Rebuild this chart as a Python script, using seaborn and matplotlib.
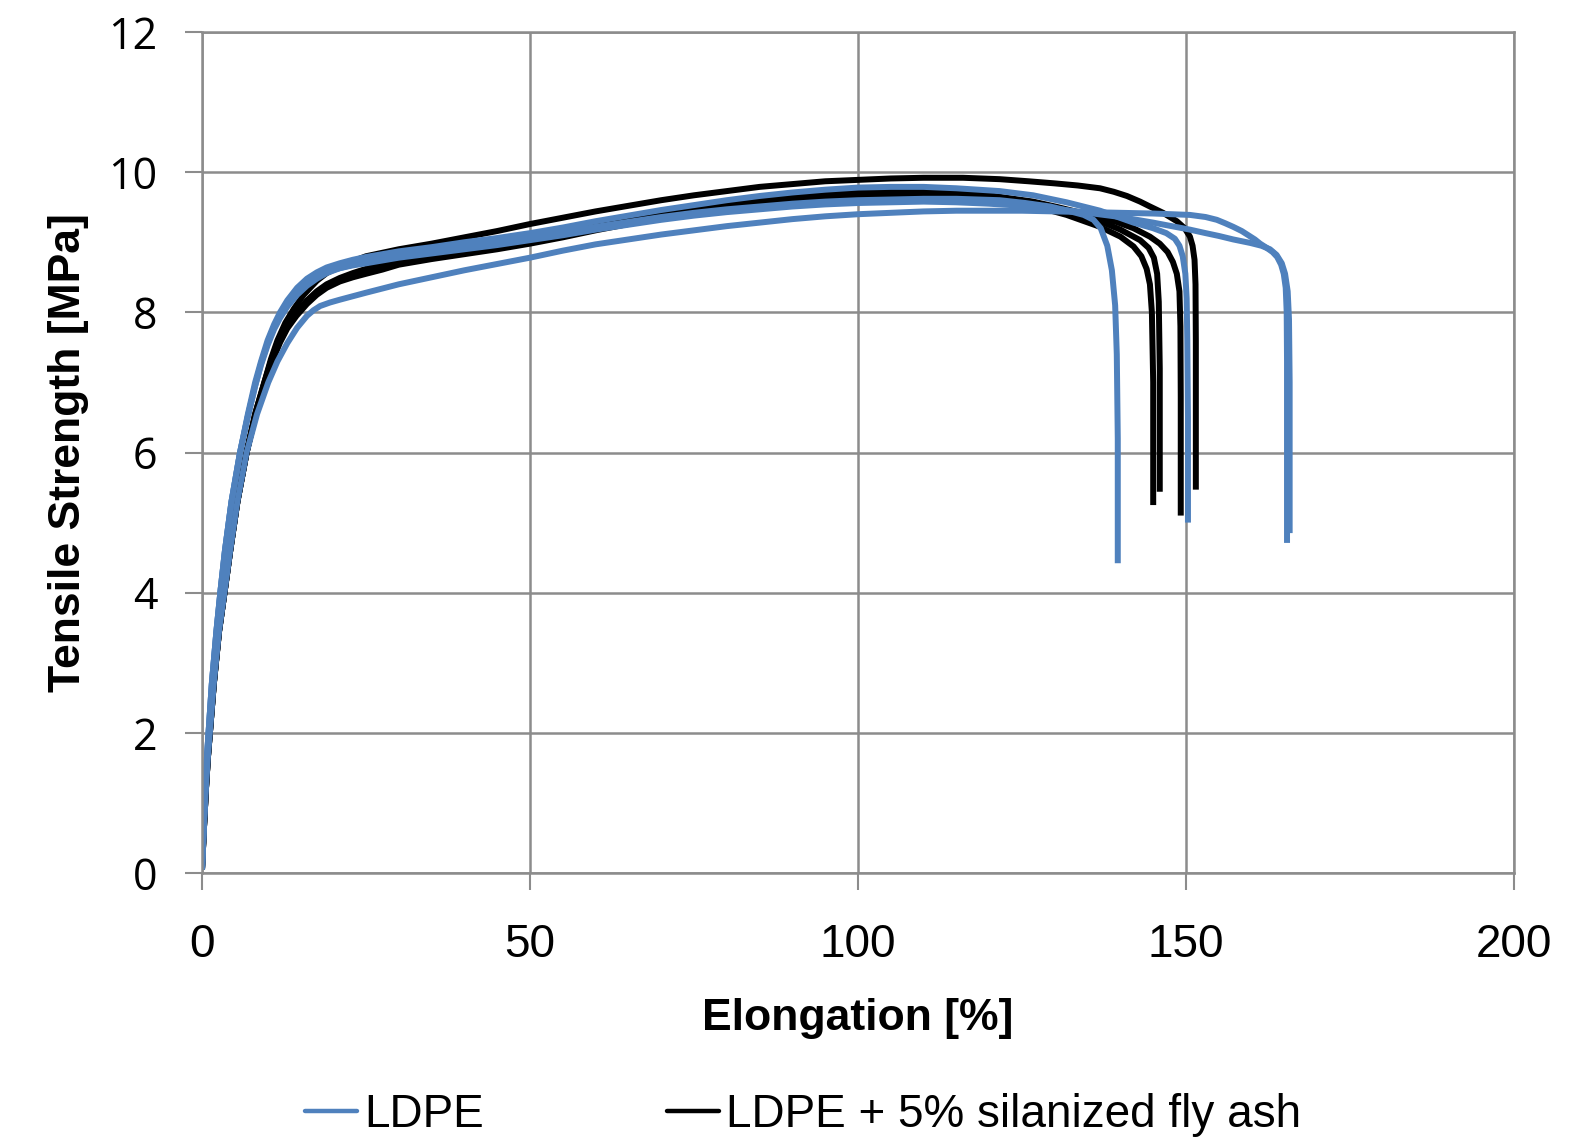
import numpy as np
import pandas as pd
import matplotlib
matplotlib.use("Agg")
import matplotlib.pyplot as plt
from matplotlib.lines import Line2D
import seaborn as sns

# ---------------- data ----------------
materials = ["LDPE", "LDPE + 5% silanized fly ash"]

# LDPE specimens (strain %, stress MPa)
ldpe1_x = [0, 0.25, 0.5, 0.75, 1.0, 1.5, 2.2, 2.85, 3.5, 4.5, 5.8, 7.0, 8.1, 9.0, 10.0, 11.0, 11.9, 13.0, 14.5, 16.0, 17.5, 19.0, 21.0, 23.0, 25.0, 27.5, 30, 35, 40, 45, 50, 55, 60, 65, 70, 75, 80, 85, 90, 95, 100, 105, 110, 115, 121.6, 126.7, 131.8, 136.9, 142, 145, 147, 148.3, 149.0, 149.5, 149.9, 150.1, 150.2, 150.3, 150.3]
ldpe1_y = [0.05, 0.65, 1.2, 1.65, 2.0, 2.7, 3.45, 4.05, 4.6, 5.3, 6.0, 6.55, 7.0, 7.3, 7.6, 7.83, 8.0, 8.17, 8.35, 8.48, 8.57, 8.64, 8.7, 8.75, 8.79, 8.83, 8.87, 8.93, 9.0, 9.06, 9.13, 9.21, 9.3, 9.38, 9.46, 9.53, 9.6, 9.66, 9.71, 9.75, 9.78, 9.79, 9.79, 9.77, 9.73, 9.67, 9.57, 9.45, 9.28, 9.2, 9.13, 9.05, 8.95, 8.8, 8.55, 8.2, 7.6, 6.5, 5.0]

ldpe2_x = [0, 0.25, 0.5, 0.75, 1.0, 1.5, 2.2, 2.85, 3.5, 4.5, 5.8, 7.0, 8.1, 9.0, 10.0, 11.0, 11.9, 13.0, 14.5, 16.0, 17.5, 19.0, 21.0, 23.0, 25.0, 27.5, 30, 35, 40, 45, 50, 55, 60, 65, 70, 75, 80, 85, 90, 95, 100, 105, 110, 115, 121.6, 125.5, 129.3, 132, 134.4, 135.9, 137.0, 138.0, 138.7, 139.2, 139.45, 139.6, 139.6]
ldpe2_y = [0.05, 0.65, 1.2, 1.65, 2.0, 2.7, 3.45, 4.05, 4.6, 5.3, 6.0, 6.52, 6.95, 7.25, 7.53, 7.76, 7.92, 8.08, 8.25, 8.38, 8.48, 8.56, 8.63, 8.68, 8.72, 8.76, 8.8, 8.86, 8.93, 8.99, 9.06, 9.14, 9.22, 9.29, 9.36, 9.42, 9.47, 9.51, 9.55, 9.58, 9.60, 9.61, 9.62, 9.62, 9.60, 9.56, 9.51, 9.45, 9.39, 9.32, 9.2, 8.95, 8.6, 8.1, 7.4, 6.2, 4.42]

ldpe3_x = [0, 0.25, 0.5, 0.75, 1.0, 1.5, 2.2, 2.85, 3.5, 4.5, 5.8, 7.0, 8.1, 9.0, 10.0, 11.0, 11.9, 13.0, 14.5, 16.0, 17.5, 19.0, 21.0, 23.0, 25.0, 27.5, 30, 35, 40, 45, 50, 55, 60, 65, 70, 75, 80, 85, 90, 95, 100, 105, 110, 115, 120, 125, 130, 135, 140, 145, 150.6, 153, 155, 157.2, 159.8, 161.5, 162.8, 163.8, 164.6, 165.1, 165.5, 165.7, 165.8, 165.8]
ldpe3_y = [0.05, 0.65, 1.2, 1.65, 2.0, 2.7, 3.45, 4.05, 4.6, 5.3, 6.0, 6.52, 6.95, 7.27, 7.56, 7.8, 7.96, 8.13, 8.3, 8.43, 8.52, 8.58, 8.63, 8.67, 8.7, 8.74, 8.78, 8.84, 8.9, 8.96, 9.03, 9.1, 9.18, 9.25, 9.32, 9.38, 9.43, 9.47, 9.51, 9.54, 9.56, 9.57, 9.58, 9.57, 9.55, 9.52, 9.48, 9.42, 9.36, 9.28, 9.18, 9.13, 9.09, 9.04, 8.99, 8.95, 8.9, 8.82, 8.7, 8.55, 8.3, 7.9, 7.0, 4.85]

ldpe4_x = [0, 0.3, 0.6, 0.9, 1.2, 1.8, 2.6, 3.5, 4.3, 5.4, 6.8, 8.4, 10.1, 11.5, 13.0, 14.5, 16.0, 17.0, 18.0, 19.5, 21.0, 22.6, 25.0, 27.5, 30, 35, 40, 45, 50, 55, 60, 65, 70, 75, 80, 85, 90, 95, 100, 105, 110, 115, 120, 125, 130, 135, 140, 145, 150.6, 153, 154.7, 156, 157.2, 158.5, 159.5, 160.5, 161.3, 162.3, 163.2, 163.9, 164.5, 164.9, 165.2, 165.35, 165.4, 165.4]
ldpe4_y = [0.05, 0.65, 1.2, 1.65, 2.0, 2.7, 3.45, 4.05, 4.6, 5.3, 6.0, 6.55, 7.0, 7.3, 7.56, 7.78, 7.95, 8.03, 8.09, 8.14, 8.18, 8.22, 8.28, 8.34, 8.4, 8.5, 8.6, 8.69, 8.78, 8.88, 8.97, 9.04, 9.11, 9.17, 9.23, 9.28, 9.33, 9.37, 9.40, 9.42, 9.44, 9.45, 9.45, 9.45, 9.44, 9.43, 9.42, 9.41, 9.39, 9.36, 9.32, 9.27, 9.22, 9.16, 9.1, 9.04, 8.98, 8.92, 8.86, 8.79, 8.68, 8.55, 8.35, 8.0, 7.3, 4.71]

# LDPE + 5% silanized fly ash specimens
fa1_x = [0, 0.3, 0.6, 0.9, 1.2, 1.8, 2.6, 3.5, 4.3, 5.4, 6.8, 8.1, 9.5, 10.5, 11.5, 12.7, 14.0, 15.5, 17.5, 19.0, 21, 23, 25, 27.5, 30, 35, 40, 45, 50, 55, 60, 65, 70, 75, 80, 85, 90, 95, 100, 105, 110, 116, 121.6, 126, 130, 133.5, 136.9, 139, 141, 143, 144.5, 146.5, 148.6, 149.8, 150.6, 151.0, 151.3, 151.45, 151.5, 151.5]
fa1_y = [0.05, 0.65, 1.2, 1.65, 2.0, 2.7, 3.45, 4.05, 4.6, 5.3, 6.0, 6.55, 7.0, 7.33, 7.6, 7.85, 8.05, 8.25, 8.45, 8.56, 8.65, 8.73, 8.8, 8.85, 8.9, 8.98, 9.07, 9.16, 9.26, 9.35, 9.44, 9.52, 9.6, 9.67, 9.73, 9.79, 9.83, 9.87, 9.89, 9.91, 9.92, 9.92, 9.90, 9.87, 9.84, 9.81, 9.77, 9.72, 9.66, 9.58, 9.51, 9.42, 9.3, 9.2, 9.08, 8.95, 8.75, 8.4, 7.6, 5.47]

fa2_x = [0, 0.3, 0.6, 0.9, 1.2, 1.8, 2.6, 3.5, 4.3, 5.4, 6.8, 8.1, 9.5, 10.5, 11.9, 13.0, 14.4, 16.0, 17.5, 19.0, 21, 23, 25, 27.5, 30, 35, 40, 45, 50, 55, 60, 65, 70, 75, 80, 85, 90, 95, 100, 105, 110, 115, 120, 126.7, 130.5, 134.4, 137, 139.4, 142, 144.5, 146.0, 147.2, 148.0, 148.6, 149.0, 149.15, 149.2, 149.2]
fa2_y = [0.05, 0.65, 1.2, 1.65, 2.0, 2.7, 3.45, 4.05, 4.6, 5.3, 6.0, 6.55, 7.0, 7.3, 7.62, 7.82, 8.0, 8.17, 8.3, 8.4, 8.49, 8.56, 8.62, 8.68, 8.74, 8.81, 8.88, 8.95, 9.03, 9.12, 9.22, 9.31, 9.4, 9.47, 9.54, 9.6, 9.64, 9.68, 9.71, 9.72, 9.72, 9.7, 9.67, 9.58, 9.5, 9.41, 9.35, 9.29, 9.2, 9.08, 8.98, 8.86, 8.72, 8.55, 8.3, 7.8, 6.8, 5.1]

fa3_x = [0, 0.3, 0.6, 0.9, 1.2, 1.8, 2.6, 3.5, 4.3, 5.4, 6.8, 8.1, 9.5, 10.5, 11.9, 13.0, 14.4, 16.0, 17.5, 19.0, 21, 23, 25, 27.5, 30, 35, 40, 45, 50, 55, 60, 65, 70, 75, 80, 85, 90, 95, 100, 105, 110, 115, 120, 126.7, 131.8, 136.9, 140, 142, 143.2, 144.0, 144.5, 144.8, 145.0, 145.0]
fa3_y = [0.05, 0.65, 1.2, 1.65, 2.0, 2.7, 3.45, 4.05, 4.6, 5.3, 6.0, 6.5, 6.95, 7.25, 7.57, 7.77, 7.95, 8.12, 8.25, 8.35, 8.44, 8.5, 8.55, 8.61, 8.68, 8.76, 8.83, 8.9, 8.98, 9.07, 9.17, 9.26, 9.35, 9.42, 9.49, 9.54, 9.58, 9.61, 9.63, 9.64, 9.64, 9.62, 9.6, 9.52, 9.39, 9.22, 9.08, 8.94, 8.8, 8.62, 8.4, 8.0, 7.0, 5.25]

fa4_x = [0, 0.3, 0.6, 0.9, 1.2, 1.8, 2.6, 3.5, 4.3, 5.4, 6.8, 8.1, 9.5, 10.5, 11.9, 13.0, 14.4, 16.0, 17.5, 19.0, 21, 23, 25, 27.5, 30, 35, 40, 45, 50, 55, 60, 65, 70, 75, 80, 85, 90, 95, 100, 105, 110, 115, 120, 126.7, 131.8, 136.9, 140, 143, 144.3, 145.1, 145.6, 145.85, 146.0, 146.0]
fa4_y = [0.05, 0.65, 1.2, 1.65, 2.0, 2.7, 3.45, 4.05, 4.6, 5.3, 6.0, 6.52, 6.98, 7.28, 7.6, 7.8, 7.98, 8.15, 8.28, 8.38, 8.47, 8.53, 8.58, 8.64, 8.71, 8.79, 8.86, 8.93, 9.0, 9.09, 9.19, 9.28, 9.37, 9.45, 9.52, 9.57, 9.61, 9.64, 9.66, 9.68, 9.68, 9.66, 9.63, 9.56, 9.45, 9.30, 9.18, 9.03, 8.92, 8.78, 8.55, 8.15, 7.2, 5.44]

x_ticks = [0, 50, 100, 150, 200]
y_ticks = [0, 2, 4, 6, 8, 10, 12]
x_label = "Elongation [%]"
y_label = "Tensile Strength [MPa]"

# ---------------- assemble ----------------
specimens = [
    (materials[1], "F1", fa1_x, fa1_y),
    (materials[1], "F2", fa2_x, fa2_y),
    (materials[1], "F3", fa3_x, fa3_y),
    (materials[1], "F4", fa4_x, fa4_y),
    (materials[0], "L1", ldpe1_x, ldpe1_y),
    (materials[0], "L2", ldpe2_x, ldpe2_y),
    (materials[0], "L3", ldpe3_x, ldpe3_y),
    (materials[0], "L4", ldpe4_x, ldpe4_y),
]
frames = []
for mat, sid, xs, ys in specimens:
    assert len(xs) == len(ys), sid
    frames.append(pd.DataFrame({"material": mat, "specimen": sid,
                                "strain": xs, "stress": ys}))
df = pd.concat(frames, ignore_index=True)

# ---------------- plotting ----------------
sns.set_theme(style="white")
plt.rcParams["font.family"] = ["Liberation Sans", "DejaVu Sans"]
plt.rcParams["text.color"] = "black"
plt.rcParams["axes.labelcolor"] = "black"
plt.rcParams["xtick.labelcolor"] = "black"
plt.rcParams["ytick.labelcolor"] = "black"

BLUE = "#4F81BD"
GRID = "#8C8C8C"
palette = {materials[0]: BLUE, materials[1]: "#000000"}

fig = plt.figure(figsize=(15.73, 11.41), dpi=100)
ax = fig.add_axes([202 / 1573, 1 - 873 / 1141, (1514 - 202) / 1573, (873 - 32) / 1141])

for mat, sid, xs, ys in specimens:
    sub = df[df["specimen"] == sid]
    sns.lineplot(data=sub, x="strain", y="stress", sort=False, estimator=None,
                 color=palette[mat], linewidth=4.3, ax=ax, legend=False,
                 solid_capstyle="butt", solid_joinstyle="round")

ax.set_xlim(0, 200)
ax.set_ylim(0, 12)
ax.set_xticks(x_ticks)
ax.set_yticks(y_ticks)
ax.grid(True, color=GRID, linewidth=1.8)
ax.set_axisbelow(True)
for s in ax.spines.values():
    s.set_color(GRID)
    s.set_linewidth(1.8)

ax.tick_params(axis="both", which="major", direction="out", color=GRID,
               width=1.5, length=12, bottom=True, left=True)
ax.tick_params(axis="y", pad=20)
ax.tick_params(axis="x", pad=24)
for lab in ax.get_yticklabels():
    lab.set_fontfamily(["Open Sans", "DejaVu Sans"])
    lab.set_fontsize(31)
for lab in ax.get_xticklabels():
    lab.set_fontfamily(["Liberation Sans", "DejaVu Sans"])
    lab.set_fontsize(33)

ax.set_xlabel(x_label, fontsize=32, fontweight="bold", labelpad=22)
ax.set_ylabel(y_label, fontsize=32, fontweight="bold", labelpad=14)

handles = [Line2D([0], [0], color=BLUE, linewidth=3.2),
           Line2D([0], [0], color="black", linewidth=3.2)]
fig.legend(handles, materials, loc="center", bbox_to_anchor=(0.5105, 0.023),
           ncol=2, frameon=False, handlelength=1.13, handletextpad=0.16,
           columnspacing=4.0, prop={"family": ["Liberation Sans", "DejaVu Sans"], "size": 33})

fig.savefig("out.png", dpi=100)
